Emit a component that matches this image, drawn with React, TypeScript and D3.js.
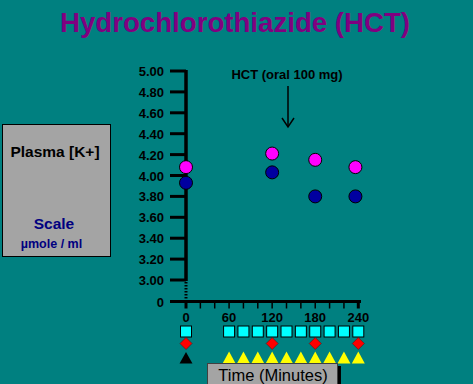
import React from "react";
import * as d3 from "d3";

const times = [0, 120, 180, 236];
const magentaVals = [4.08, 4.21, 4.15, 4.08];
const blueVals = [3.93, 4.03, 3.8, 3.8];
const yTicks = [3.0, 3.2, 3.4, 3.6, 3.8, 4.0, 4.2, 4.4, 4.6, 4.8, 5.0];
const xTickLabels = [0, 60, 120, 180, 240];
const xMinorTicks = [0, 20, 40, 60, 80, 100, 120, 140, 160, 180, 200, 220, 240];
const squareTimes = [0, 60, 80, 100, 120, 140, 160, 180, 200, 220, 240];
const diamondTimes = [0, 120, 180, 240];
const yellowTriTimes = [60, 80, 100, 120, 140, 160, 180, 200, 220, 240];
const blackTriTimes = [0];

const W = 473;
const H = 384;

export default function App() {
  const x = d3.scaleLinear().domain([0, 240]).range([186, 358.3]);
  const y = d3.scaleLinear().domain([3, 5]).range([280, 71]);
  const zeroY = 301.5;
  const font = "'Liberation Sans', Arial, sans-serif";

  return (
    <svg width={W} height={H} style={{ position: "absolute", left: 0, top: 0, display: "block" }}>
      <rect x={0} y={0} width={W} height={H} fill="#008080" />
      <text x={235} y={31.5} textAnchor="middle" fontFamily={font} fontWeight="bold" fontSize={27}
        fill="#800080" textLength={350} lengthAdjust="spacingAndGlyphs">Hydrochlorothiazide (HCT)</text>

      {/* left label box */}
      <rect x={2.5} y={124.5} width={108} height={132} fill="#a4a4a4" stroke="#000" strokeWidth={1} />
      <text x={55} y={157} textAnchor="middle" fontFamily={font} fontWeight="bold" fontSize={15.5} fill="#000">Plasma [K+]</text>
      <text x={54} y={229} textAnchor="middle" fontFamily={font} fontWeight="bold" fontSize={15.5} fill="#000080">Scale</text>
      <text x={51.5} y={248} textAnchor="middle" fontFamily={font} fontWeight="bold" fontSize={12.5} fill="#000080">µmole / ml</text>

      {/* y axis */}
      <line x1={186} x2={186} y1={y(5) - 1} y2={y(3) + 1} stroke="#000" strokeWidth={3.5} />
      <line x1={186} x2={186} y1={y(3) + 2} y2={zeroY} stroke="#000" strokeWidth={3} strokeDasharray="1.5,1.5" />
      {yTicks.map((t) => (
        <g key={t}>
          <line x1={170} x2={186} y1={y(t)} y2={y(t)} stroke="#000" strokeWidth={3} />
          <text x={164} y={y(t) + 5} textAnchor="end" fontFamily={font} fontWeight="bold" fontSize={13} fill="#000">
            {t.toFixed(2)}
          </text>
        </g>
      ))}
      <line x1={170} x2={186} y1={zeroY} y2={zeroY} stroke="#000" strokeWidth={3} />
      <text x={164} y={zeroY + 5} textAnchor="end" fontFamily={font} fontWeight="bold" fontSize={13} fill="#000">0</text>

      {/* x axis */}
      <line x1={170} x2={361} y1={zeroY} y2={zeroY} stroke="#000" strokeWidth={3} />
      {xMinorTicks.map((t) => (
        <line key={t} x1={x(t)} x2={x(t)} y1={zeroY} y2={zeroY + 7} stroke="#000" strokeWidth={t === 0 || t === 240 ? 3 : 1.5} />
      ))}
      {xTickLabels.map((t) => (
        <text key={t} x={x(t)} y={322} textAnchor="middle" fontFamily={font} fontWeight="bold" fontSize={13} fill="#000">{t}</text>
      ))}

      {/* markers below axis */}
      {squareTimes.map((t) => (
        <rect key={"s" + t} x={x(t) - 5.5} y={326} width={11} height={11} fill="#00ffff" stroke="#000" strokeWidth={1} />
      ))}
      {diamondTimes.map((t) => (
        <path key={"d" + t} d={`M${x(t)},${337.5} L${x(t) + 6},${343.5} L${x(t)},${349.5} L${x(t) - 6},${343.5} Z`} fill="#ff0000" stroke="#600000" strokeWidth={0.5} />
      ))}
      {blackTriTimes.map((t) => (
        <path key={"b" + t} d={`M${x(t)},${352} L${x(t) + 6.5},${363.5} L${x(t) - 6.5},${363.5} Z`} fill="#000" />
      ))}
      {yellowTriTimes.map((t) => (
        <path key={"y" + t} d={`M${x(t)},${351.5} L${x(t) + 6.5},${363.5} L${x(t) - 6.5},${363.5} Z`} fill="#ffff00" />
      ))}

      {/* time label box */}
      <rect x={337} y={366} width={4} height={20} fill="#000" />
      <rect x={207.5} y={363.5} width={130} height={25} fill="#a4a4a4" stroke="#404040" strokeWidth={1} />
      <text x={273} y={381} textAnchor="middle" fontFamily={font} fontSize={16.5} fill="#000">Time (Minutes)</text>

      {/* annotation */}
      <text x={287} y={79} textAnchor="middle" fontFamily={font} fontWeight="bold" fontSize={13} fill="#000">HCT (oral 100 mg)</text>
      <line x1={288} x2={288} y1={86} y2={126} stroke="#000" strokeWidth={1.5} />
      <path d="M282,118 L288,127 L294,118" fill="none" stroke="#000" strokeWidth={1.5} />

      {/* data */}
      {times.map((t, i) => (
        <circle key={"m" + i} cx={x(t)} cy={y(magentaVals[i])} r={6.5} fill="#ff00ff" stroke="#000" strokeWidth={1} />
      ))}
      {times.map((t, i) => (
        <circle key={"bl" + i} cx={x(t)} cy={y(blueVals[i])} r={6.5} fill="#0000a0" stroke="#000" strokeWidth={1} />
      ))}
    </svg>
  );
}
